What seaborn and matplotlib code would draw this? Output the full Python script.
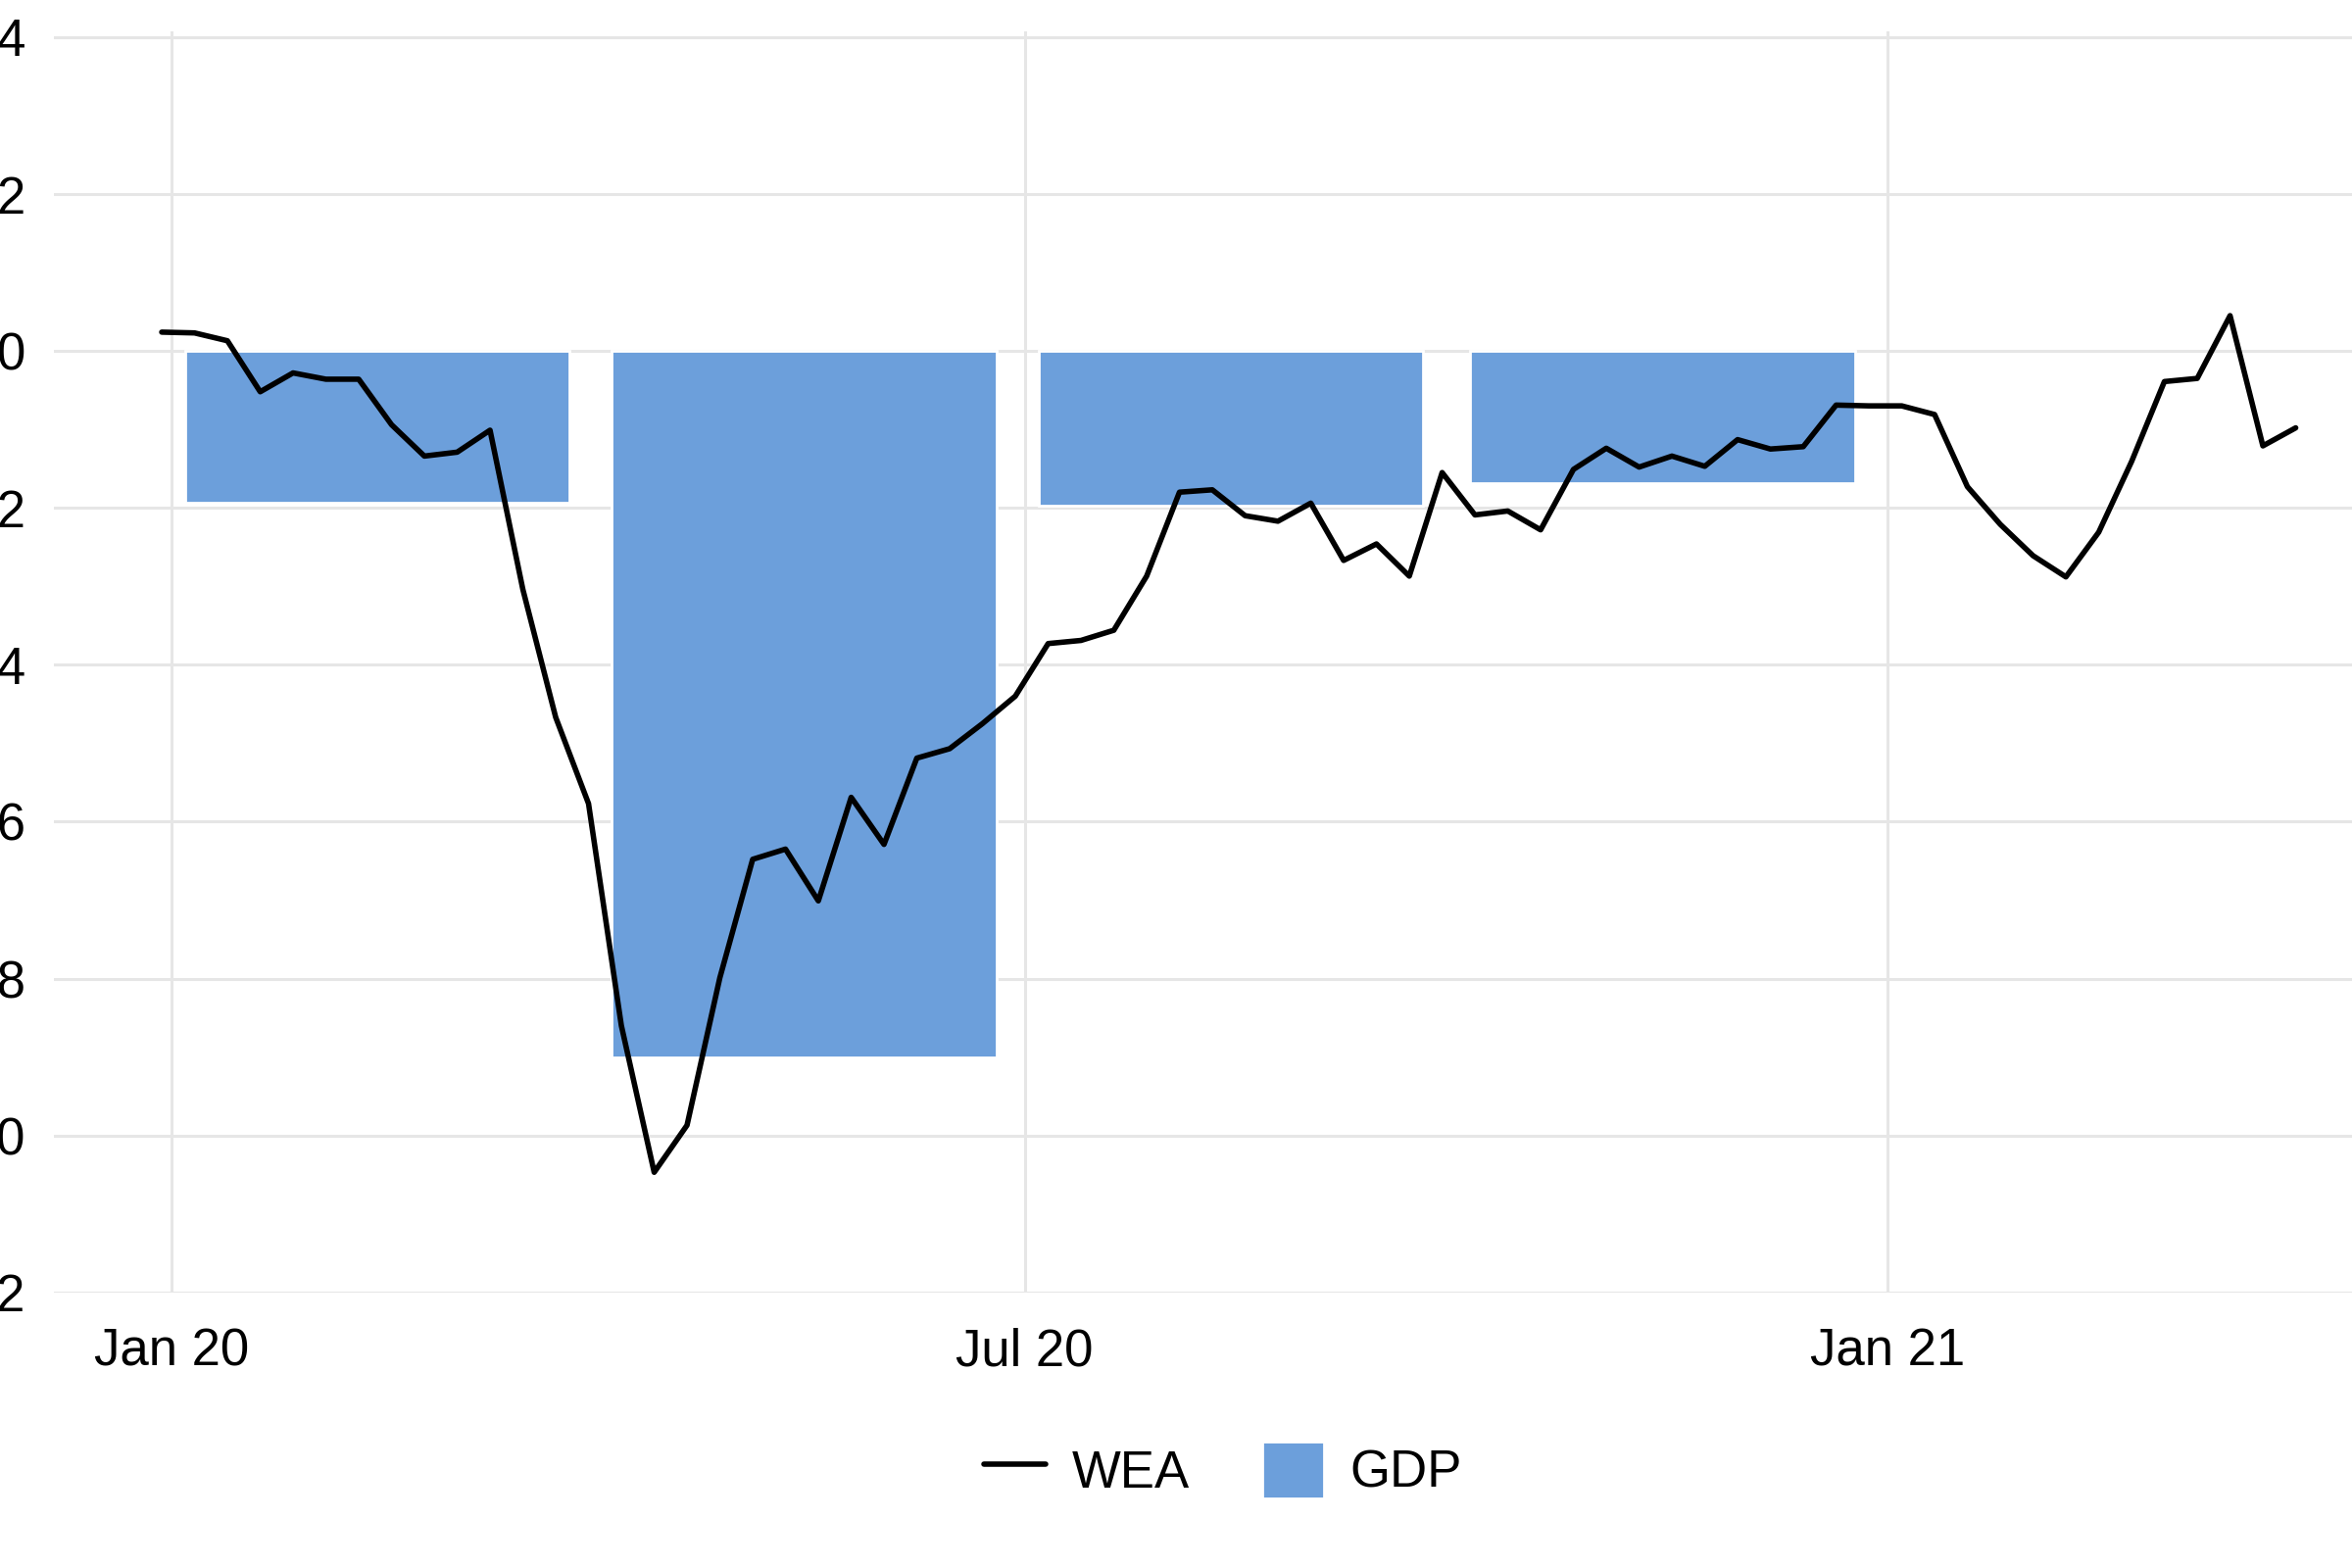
import pandas as pd
import numpy as np
import seaborn as sns
import matplotlib.pyplot as plt
import matplotlib.dates as mdates
from matplotlib.lines import Line2D
from matplotlib.patches import Patch

# weekly economic index, weekly readings from end of Dec 2019
wea_values = [0.24, 0.23, 0.13, -0.52, -0.28, -0.36, -0.36, -0.94, -1.34, -1.29,
              -1.01, -3.04, -4.67, -5.77, -8.60, -10.47, -9.87, -7.99, -6.48, -6.35,
              -7.01, -5.69, -6.29, -5.19, -5.07, -4.75, -4.40, -3.73, -3.69, -3.56,
              -2.87, -1.80, -1.77, -2.10, -2.17, -1.94, -2.67, -2.46, -2.87, -1.55,
              -2.09, -2.04, -2.28, -1.51, -1.24, -1.48, -1.34, -1.47, -1.13, -1.25,
              -1.22, -0.69, -0.70, -0.70, -0.81, -1.73, -2.21, -2.61, -2.88, -2.31,
              -1.41, -0.39, -0.35, 0.45, -1.21, -0.98]
wea_start = "2019-12-30"

# quarterly GDP, drawn at mid-quarter
gdp_dates = ["2020-02-14", "2020-05-15", "2020-08-14", "2020-11-14"]
gdp_values = [-1.93, -9.00, -1.97, -1.68]

y_ticks = [4, 2, 0, -2, -4, -6, -8, -10, -12]
x_ticks = ["2020-01-01", "2020-07-01", "2021-01-01"]

wea = pd.DataFrame({"date": pd.date_range(wea_start, periods=len(wea_values), freq="7D"),
                    "WEA": wea_values})

sns.set_style("white")
plt.rcParams["font.family"] = ["Liberation Sans", "DejaVu Sans"]
plt.rcParams["text.color"] = "black"

bar_color = "#6c9fdb"
grid_color = "#e6e6e6"

fig = plt.figure(figsize=(12, 8), dpi=200)
ax = fig.add_axes([0.0229, 0.1758, 0.9771, 0.8045])

ax.bar(pd.to_datetime(gdp_dates), gdp_values, width=82, color=bar_color, zorder=2)
sns.lineplot(data=wea, x="date", y="WEA", ax=ax, color="black", linewidth=2.0, zorder=3)

ax.set_ylim(-12, 4.08)
ax.set_xlim(mdates.date2num(pd.Timestamp("2019-12-07")), mdates.date2num(pd.Timestamp("2021-04-10")))
ax.set_yticks(y_ticks)
ax.set_xticks(pd.to_datetime(x_ticks))
ax.xaxis.set_major_formatter(mdates.DateFormatter("%b %y"))

ax.grid(True, color=grid_color, linewidth=1.1)
ax.set_axisbelow(True)
ax.tick_params(axis="both", length=0, labelsize=19, colors="black")
ax.tick_params(axis="y", pad=10.4)
ax.tick_params(axis="x", pad=13)
ax.set_xlabel("")
ax.set_ylabel("")
for s in ax.spines.values():
    s.set_visible(False)

handles = [Line2D([], [], color="black", linewidth=2.0), Patch(facecolor=bar_color)]
fig.legend(handles=handles, labels=["WEA", "GDP"], loc="center", bbox_to_anchor=(0.52, 0.0625),
           ncol=2, frameon=False, fontsize=19, handlelength=1.2, handleheight=1.3,
           handletextpad=0.5, columnspacing=1.4, labelcolor="black")

fig.savefig("out.png", dpi=200)
